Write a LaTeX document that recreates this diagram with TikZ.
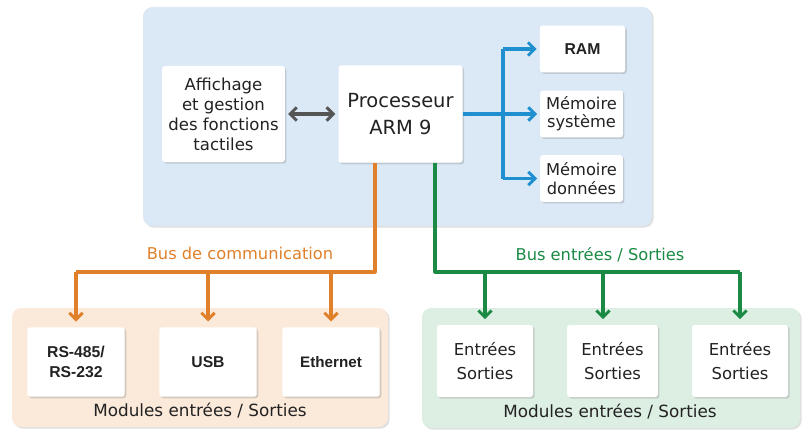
\documentclass[tikz,border=0pt]{standalone}
\usepackage{fontspec}
\setmainfont{DejaVu Sans}
\newfontfamily\boldsans{Liberation Sans}
\usetikzlibrary{arrows.meta,shadows}

\definecolor{panelblue}{RGB}{219,233,246}
\definecolor{panelorange}{RGB}{251,233,218}
\definecolor{panelgreen}{RGB}{221,238,227}
\definecolor{busorange}{RGB}{224,128,42}
\definecolor{busgreen}{RGB}{26,138,69}
\definecolor{busblue}{RGB}{31,143,208}
\definecolor{linkgray}{RGB}{85,85,85}
\definecolor{textdark}{RGB}{34,34,34}

\tikzset{every picture/.style={line width=0.75pt}}
\tikzset{
  panel/.style={fill=#1, draw=none, rounded corners=7pt,
    drop shadow={shadow xshift=1.2pt, shadow yshift=-1.2pt, opacity=0.25}},
  unit/.style={fill=white, draw=none, rounded corners=2pt, align=center,
    text=textdark, inner sep=0pt,
    drop shadow={shadow xshift=1.2pt, shadow yshift=-1.2pt, opacity=0.3}},
  barb/.tip={Straight Barb[length=5pt,width=10pt,line width=2.2pt]},
  tip/.style={-barb},
  bus/.style={draw=#1, line width=2.4pt, line join=round},
}

\begin{document}
\begin{tikzpicture}[x=0.75pt,y=0.75pt,yscale=-1,xscale=1]
\useasboundingbox (0,0) rectangle (811,435);

%Shape: Panels
\fill[panel=panelblue] (143,7) rectangle (652,226);
\fill[panel=panelorange] (12,308) rectangle (388,427);
\fill[panel=panelgreen] (422,308) rectangle (800,428);

%Units of the top panel
\node[unit, minimum width=92pt, minimum height=72pt, font=\fontsize{12.4}{15}\selectfont] (aff) at (223.5,114) {Affichage\\et gestion\\des fonctions\\tactiles};
\node[unit, minimum width=93pt, minimum height=73pt, font=\fontsize{14.6}{20}\selectfont] (proc) at (400.5,114) {Processeur\\ARM 9};
\node[unit, minimum width=64pt, minimum height=35pt, font=\boldsans\bfseries\fontsize{11.8}{14}\selectfont] (ram) at (582.5,49) {RAM};
\node[unit, minimum width=62pt, minimum height=35pt, font=\fontsize{12.2}{13.7}\selectfont] (msys) at (581.5,114) {Mémoire\\système};
\node[unit, minimum width=62pt, minimum height=35pt, font=\fontsize{12.2}{13.7}\selectfont] (mdon) at (581.5,178.5) {Mémoire\\données};

%Communication modules
\node[unit, minimum width=73pt, minimum height=52pt, font=\boldsans\bfseries\fontsize{11.8}{15}\selectfont] (rs) at (76,362) {RS-485/\\RS-232};
\node[unit, minimum width=73pt, minimum height=52pt, font=\boldsans\bfseries\fontsize{11.8}{15}\selectfont] (usb) at (208,362) {USB};
\node[unit, minimum width=73pt, minimum height=52pt, font=\boldsans\bfseries\fontsize{11.4}{15}\selectfont] (eth) at (331,362) {Ethernet};

%Input / output modules
\node[unit, minimum width=72pt, minimum height=54pt, font=\fontsize{12.3}{17.5}\selectfont] (io1) at (485,361) {Entrées\\Sorties};
\node[unit, minimum width=68pt, minimum height=54pt, font=\fontsize{12.3}{17.5}\selectfont] (io2) at (612.5,361) {Entrées\\Sorties};
\node[unit, minimum width=72pt, minimum height=54pt, font=\fontsize{12.3}{17.5}\selectfont] (io3) at (740,361) {Entrées\\Sorties};

%Bus coordinates
\coordinate (bj) at (503,114);
\coordinate (ob) at (375,272);
\coordinate (gb) at (435,272);
\coordinate (gd) at (603,272);

%Display link
\draw[bus=linkgray, barb-barb, shorten <=2pt, shorten >=2pt] (aff.east) -- (proc.west);

%Memory bus
\draw[bus=busblue] (proc.east) -- (bj);
\draw[bus=busblue] (bj |- ram.west) -- (bj |- mdon.west);
\draw[bus=busblue, tip, shorten >=2pt] (bj |- ram.west) -- (ram.west);
\draw[bus=busblue, tip, shorten >=2pt] (bj) -- (msys.west);
\draw[bus=busblue, tip, shorten >=2pt] (bj |- mdon.west) -- (mdon.west);

%Communication bus
\draw[bus=busorange] (proc.south -| ob) -- (ob) -- (ob -| rs.north);
\draw[bus=busorange, tip, shorten >=4pt] (ob -| rs.north) -- (rs.north);
\draw[bus=busorange, tip, shorten >=4pt] (ob -| usb.north) -- (usb.north);
\draw[bus=busorange, tip, shorten >=4pt] (ob -| eth.north) -- (eth.north);

%In/out bus
\draw[bus=busgreen] (proc.south -| gb) -- (gb) -- (gb -| io3.north);
\draw[bus=busgreen, tip, shorten >=4pt] (gb -| io1.north) -- (io1.north);
\draw[bus=busgreen, tip, shorten >=4pt] (gd) -- (gd |- io2.north);
\draw[bus=busgreen, tip, shorten >=4pt] (gb -| io3.north) -- (io3.north);

% Text Node
\node[text=busorange, font=\fontsize{12.2}{14}\selectfont] (lcom) at (240,253) {Bus de communication};
% Text Node
\node[text=busgreen, font=\fontsize{12.2}{14}\selectfont] (lio) at (600,255) {Bus entrées / Sorties};
% Text Node
\node[text=textdark, font=\fontsize{12.6}{14}\selectfont] (mcom) at (200,411) {Modules entrées / Sorties};
% Text Node
\node[text=textdark, font=\fontsize{12.6}{14}\selectfont] (mio) at (610,412) {Modules entrées / Sorties};

\end{tikzpicture}
\end{document}
